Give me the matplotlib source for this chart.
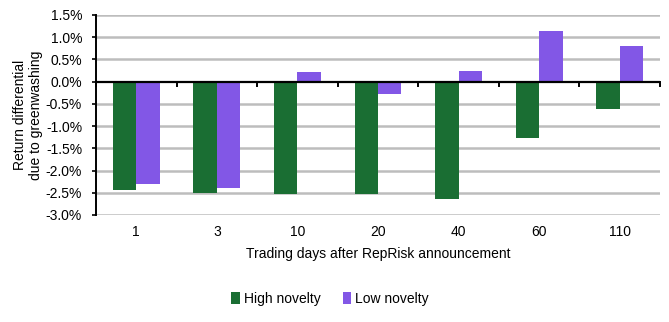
import numpy as np
import matplotlib
matplotlib.use('Agg')
from matplotlib import pyplot as plt

plt.rcParams['font.family'] = ['Liberation Sans', 'DejaVu Sans']

days = ['1', '3', '10', '20', '40', '60', '110']
high_novelty = [-2.43, -2.51, -2.53, -2.52, -2.63, -1.26, -0.61]
low_novelty = [-2.30, -2.39, 0.22, -0.27, 0.24, 1.14, 0.80]
y_ticks = [-3.0, -2.5, -2.0, -1.5, -1.0, -0.5, 0.0, 0.5, 1.0, 1.5]

color_green = '#1a6e33'
color_purple = '#8257e6'
color_grid = '#bdbdbd'

fig = plt.figure(figsize=(6.69, 3.22), dpi=100)
ax = fig.add_axes([96 / 669, 1 - 215 / 322, 564 / 669, 200 / 322])

x = np.arange(len(days))
w = 0.29
ax.bar(x - w / 2, high_novelty, w, color=color_green, label='High novelty', zorder=3)
ax.bar(x + w / 2, low_novelty, w, color=color_purple, label='Low novelty', zorder=3)

ax.set_xlim(-0.5, len(days) - 0.5)
ax.set_ylim(-3.0, 1.5)
ax.set_yticks(y_ticks)
ax.set_yticklabels(['%.1f%%' % v for v in y_ticks])
for v in y_ticks:
    if v != 0:
        ax.axhline(v, color=color_grid, lw=1.8, zorder=1)

# zero line with category separators
ax.axhline(0, color='black', lw=1.6, zorder=4)
for b in np.arange(-0.5, len(days), 1.0):
    ax.plot([b, b], [0, -0.09], color='black', lw=1.4, zorder=4, clip_on=False)

for s in ['top', 'right', 'bottom']:
    ax.spines[s].set_visible(False)
ax.spines['left'].set_color('black')
ax.spines['left'].set_linewidth(1.4)
ax.tick_params(axis='y', length=3, width=1.2, labelsize=10, pad=7)
ax.tick_params(axis='x', length=0, labelsize=10, pad=7)
ax.set_xticks(x)
ax.set_xticklabels(days)

ax.set_xlabel('Trading days after RepRisk announcement', fontsize=10, labelpad=6)
ax.set_ylabel('Return differential\ndue to greenwashing', fontsize=10, labelpad=2)

fig.legend(loc='center', bbox_to_anchor=(330 / 669, 1 - 299 / 322), ncol=2,
           frameon=False, fontsize=10, handlelength=0.6, handleheight=0.9,
           handletextpad=0.3, columnspacing=1.6)

fig.savefig('out.png', dpi=100)
